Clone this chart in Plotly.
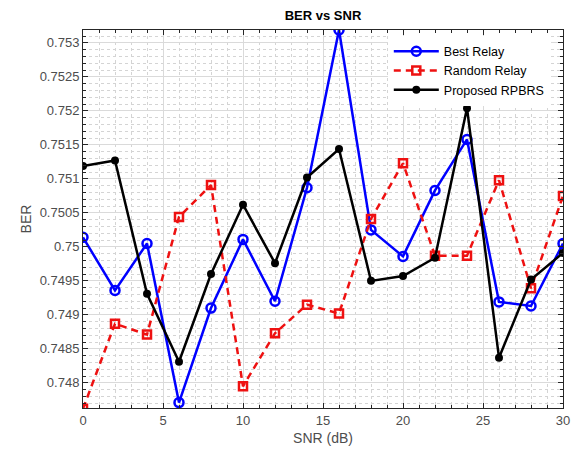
import plotly.graph_objects as go

snr = [0, 2, 4, 6, 8, 10, 12, 14, 16, 18, 20, 22, 24, 26, 28, 30]
best_relay = [0.75014, 0.74936, 0.75005, 0.74771, 0.74910, 0.75011, 0.74920, 0.75087,
              0.75319, 0.75025, 0.74986, 0.75083, 0.75158, 0.74919, 0.74913, 0.75005]
random_relay = [0.74762, 0.74887, 0.74871, 0.75044, 0.75091, 0.74795, 0.74873, 0.74915,
                0.74902, 0.75041, 0.75123, 0.74987, 0.74987, 0.75098, 0.74939, 0.75075]
proposed = [0.75119, 0.75127, 0.74931, 0.74831, 0.74960, 0.75062, 0.74976, 0.75102,
            0.75144, 0.74950, 0.74957, 0.74984, 0.75204, 0.74837, 0.74952, 0.74991]
y_ticks = [0.748, 0.7485, 0.749, 0.7495, 0.75, 0.7505, 0.751, 0.7515, 0.752, 0.7525, 0.753]
y_tick_text = ["0.748", "0.7485", "0.749", "0.7495", "0.75", "0.7505", "0.751", "0.7515",
               "0.752", "0.7525", "0.753"]
x_ticks = [0, 5, 10, 15, 20, 25, 30]

fig = go.Figure()
fig.add_trace(go.Scatter(
    x=snr, y=best_relay, name="Best Relay", mode="lines+markers",
    line=dict(color="#0000ff", width=2.5),
    marker=dict(symbol="circle-open", size=9, color="#0000ff", line=dict(width=2.5))))
fig.add_trace(go.Scatter(
    x=snr, y=random_relay, name="Random Relay", mode="lines+markers",
    line=dict(color="#ee1111", width=2.5, dash="7px,5px"),
    marker=dict(symbol="square-open", size=8, color="#ee1111", line=dict(width=2.5))))
fig.add_trace(go.Scatter(
    x=snr, y=proposed, name="Proposed RPBRS", mode="lines+markers",
    line=dict(color="#000000", width=2.5),
    marker=dict(symbol="circle", size=8, color="#000000")))

axis_common = dict(
    showline=True, linecolor="#262626", linewidth=1, mirror="ticks",
    ticks="inside", ticklen=5, tickcolor="#262626",
    showgrid=True, gridcolor="#dadada", gridwidth=1,
    zeroline=False, automargin=False,
    tickfont=dict(family="Liberation Sans, Arial", size=13, color="#4d4d4d"),
)

fig.update_xaxes(
    range=[0, 30], tickvals=x_ticks,
    title=dict(text="SNR (dB)", font=dict(family="Liberation Sans, Arial", size=14, color="#4d4d4d"), standoff=6),
    minor=dict(dtick=1, showgrid=True, gridcolor="#d4d4d4", griddash="dot", ticks="inside", ticklen=3, tickcolor="#262626"),
    **axis_common)
fig.update_yaxes(
    range=[0.74763, 0.75319], tickvals=y_ticks, ticktext=y_tick_text,
    title=dict(text="BER", font=dict(family="Liberation Sans, Arial", size=14, color="#4d4d4d"), standoff=4),
    minor=dict(dtick=0.0001, tick0=0.748, showgrid=True, gridcolor="#d4d4d4", griddash="dot", ticks="inside", ticklen=3, tickcolor="#262626"),
    **axis_common)

fig.update_layout(
    width=572, height=456,
    margin=dict(l=83, r=9, t=30, b=48),
    paper_bgcolor="white", plot_bgcolor="white",
    title=dict(text="<b>BER vs SNR</b>", x=(83 + 563) / 2 / 572, xanchor="center",
               y=1 - 15 / 456, yanchor="middle",
               font=dict(family="Liberation Sans, Arial", size=13, color="#000000")),
    legend=dict(x=0.635, y=0.985, xanchor="left", yanchor="top",
                bgcolor="white", bordercolor="#ffffff", borderwidth=1,
                font=dict(family="Liberation Sans, Arial", size=12.5, color="#000000"),
                itemwidth=45, tracegroupgap=0),
    showlegend=True,
)

fig.write_html("out.html", config={"displayModeBar": False},
               post_script="document.body.style.margin='0px';")
